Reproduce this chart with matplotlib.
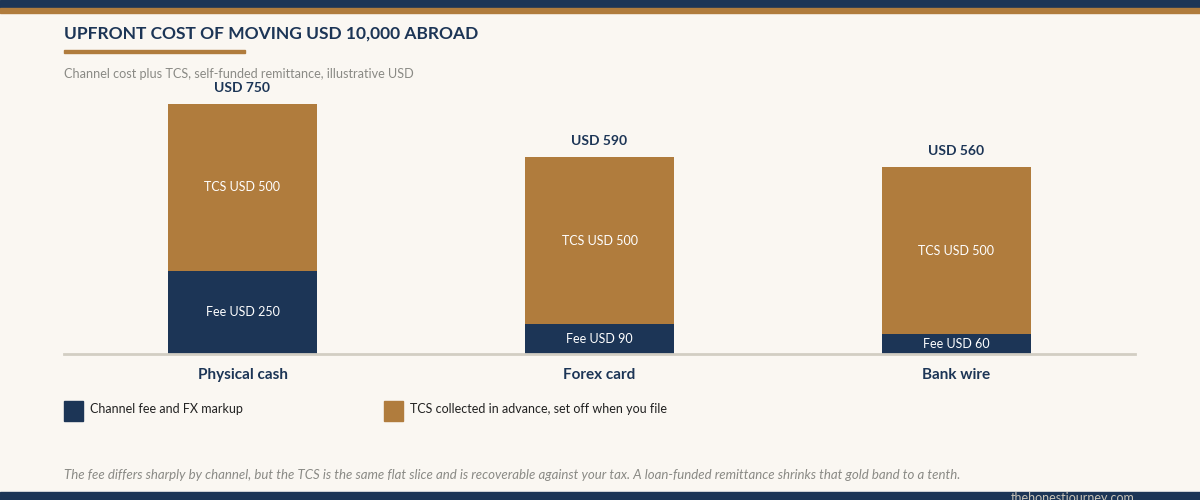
import matplotlib.pyplot as plt
from matplotlib.patches import Rectangle

channels = ['Physical cash', 'Forex card', 'Bank wire']
fee = [250, 90, 60]
tcs = [500, 500, 500]

NAVY = '#1c3556'
GOLD = '#b07c3d'
BG = '#faf7f2'
GREY = '#8a8a85'

plt.rcParams['font.family'] = ['Lato', 'DejaVu Sans']

fig = plt.figure(figsize=(12, 5), dpi=100, facecolor=BG)

# top and bottom bands
fig.patches.append(Rectangle((0, 492 / 500), 1, 8 / 500, transform=fig.transFigure, color=NAVY, zorder=0))
fig.patches.append(Rectangle((0, 487 / 500), 1, 5 / 500, transform=fig.transFigure, color=GOLD, zorder=0))
fig.patches.append(Rectangle((0, 0), 1, 8 / 500, transform=fig.transFigure, color=NAVY, zorder=0))
fig.patches.append(Rectangle((64 / 1200, 447 / 500), 181 / 1200, 3 / 500, transform=fig.transFigure, color=GOLD))

fig.text(64 / 1200, 1 - 34 / 500, 'UPFRONT COST OF MOVING USD 10,000 ABROAD', fontsize=12.5, fontweight='bold',
         color=NAVY, va='center')
fig.text(64 / 1200, 1 - 74 / 500, 'Channel cost plus TCS, self-funded remittance, illustrative USD', fontsize=9.1,
         color=GREY, va='center')

# plot area: baseline at y=354, 1/3 px per USD
ax = fig.add_axes([64 / 1200, 146 / 500, 1071 / 1200, (800 / 3) / 500])
ax.set_facecolor(BG)
x = range(len(channels))
ax.bar(x, fee, width=0.42, color=NAVY, zorder=2)
ax.bar(x, tcs, width=0.42, bottom=fee, color=GOLD, zorder=2)
ax.set_xlim(-0.5, 2.5)
ax.set_ylim(0, 800)
for s in ['top', 'right', 'left']:
    ax.spines[s].set_visible(False)
ax.spines['bottom'].set_color('#d2cec3')
ax.spines['bottom'].set_linewidth(2)
ax.set_yticks([])
ax.set_xticks(list(x))
ax.set_xticklabels(channels, fontsize=11, fontweight='bold', color=NAVY)
ax.tick_params(axis='x', length=0, pad=10)

for i in x:
    ax.text(i, fee[i] / 2, f'Fee USD {fee[i]}', ha='center', va='center', color='white', fontsize=9, zorder=3)
    ax.text(i, fee[i] + tcs[i] / 2, f'TCS USD {tcs[i]}', ha='center', va='center', color='white', fontsize=9,
            zorder=3)
    ax.text(i, fee[i] + tcs[i] + 30, f'USD {fee[i] + tcs[i]}', ha='center', va='bottom', color=NAVY, fontsize=10,
            fontweight='bold', zorder=3)

# legend
fig.patches.append(Rectangle((64 / 1200, 79 / 500), 19 / 1200, 20 / 500, transform=fig.transFigure, color=NAVY))
fig.text(90 / 1200, 1 - 409 / 500, 'Channel fee and FX markup', fontsize=9, color='#222222', va='center')
fig.patches.append(Rectangle((384 / 1200, 79 / 500), 19 / 1200, 20 / 500, transform=fig.transFigure, color=GOLD))
fig.text(410 / 1200, 1 - 409 / 500, 'TCS collected in advance, set off when you file', fontsize=9,
         color='#222222', va='center')

fig.text(64 / 1200, 1 - 475 / 500,
         'The fee differs sharply by channel, but the TCS is the same flat slice and is recoverable against your tax. '
         'A loan-funded remittance shrinks that gold band to a tenth.',
         fontsize=9.5, style='italic', color=GREY, va='center')
fig.text(1135 / 1200, 1 - 498 / 500, 'thehonestjourney.com', fontsize=9, color='#c9c4b8', ha='right', va='center')

fig.savefig('out.png', dpi=100, facecolor=BG)
